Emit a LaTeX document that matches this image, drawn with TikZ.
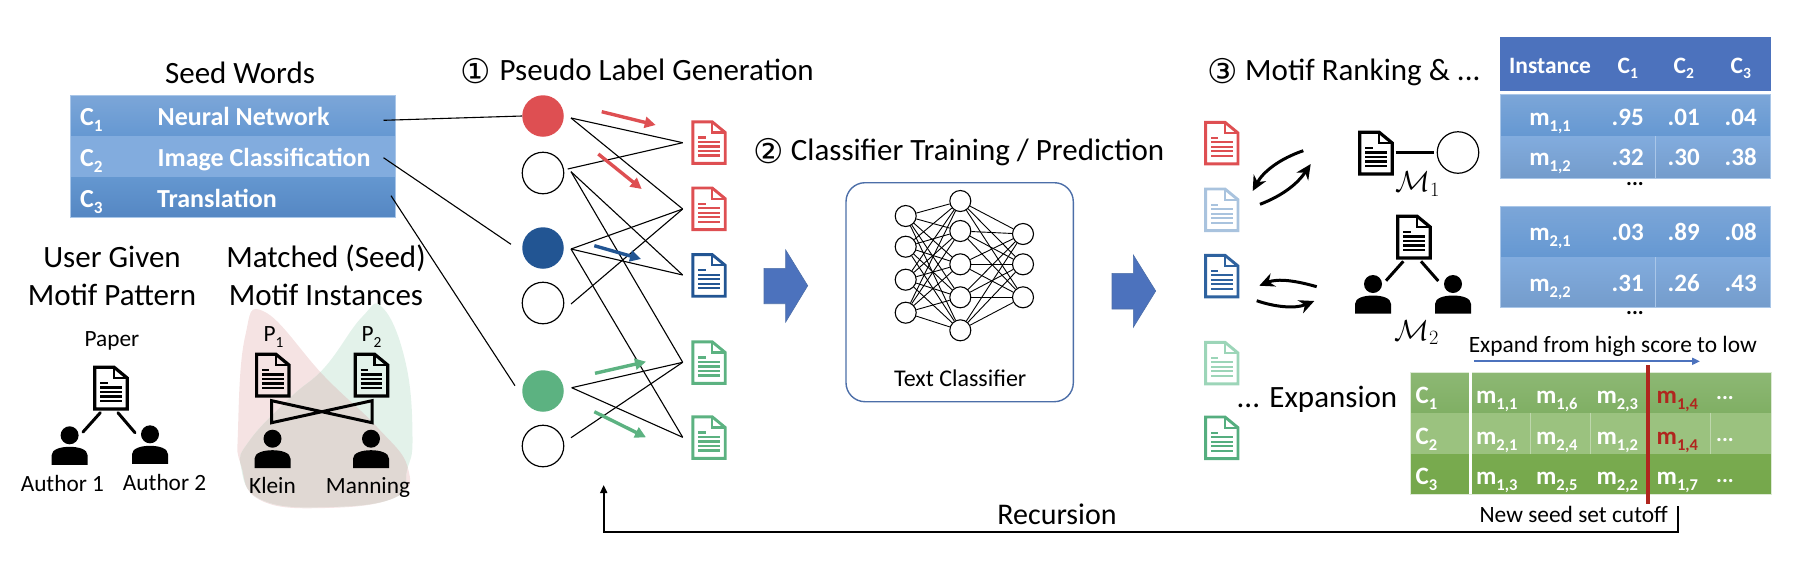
\RequirePackage{fix-cm}
\documentclass[tikz,border=0pt]{standalone}
\usepackage{fontspec}
\setmainfont{Carlito}
\newfontfamily\circfont{DejaVu Sans}
\usetikzlibrary{arrows.meta}
\definecolor{cred}{HTML}{DE4F52}
\definecolor{cblue}{HTML}{225593}
\definecolor{cgreen}{HTML}{5CB281}
\definecolor{clblue}{HTML}{A9C3DE}
\definecolor{clgreen}{HTML}{9CD5B8}
\definecolor{cblue2}{HTML}{2E629F}
\definecolor{cgreen2}{HTML}{55AE7F}
\definecolor{arrowblue}{HTML}{4C72BD}
\definecolor{boxline}{HTML}{4C6EA8}
\definecolor{cellline}{HTML}{A9C6E8}
\definecolor{pinkblob}{HTML}{F5E3E3}
\definecolor{greenblob}{HTML}{E3F2EA}
\definecolor{mixblob}{HTML}{E0D8D3}
\definecolor{cutred}{HTML}{B0261E}
\definecolor{rowAt}{HTML}{7CA6D8}
\definecolor{rowAb}{HTML}{6598D2}
\definecolor{rowBt}{HTML}{82ACDE}
\definecolor{rowBb}{HTML}{7AA4D6}
\definecolor{rowCt}{HTML}{6497D0}
\definecolor{rowCb}{HTML}{5587C3}
\definecolor{greenA}{HTML}{8DB874}
\definecolor{greenAb}{HTML}{80AF64}
\definecolor{greenB}{HTML}{9BC27F}
\definecolor{greenC}{HTML}{79AB4F}
\definecolor{greenCb}{HTML}{75A74B}
\newcommand\sbs[1]{\raisebox{-0.24em}{\scalebox{0.66}{#1}}}
% document icon: #1 colour, #2 outline width, #3 line width, #4 x, #5 y (top-left corner)
\newcommand\DocIcon[5]{%
  \begin{scope}[shift={(#4,#5)},draw=#1,line join=miter]
    \draw[line width=#2] (1.3,1.3) -- (20.7,1.3) -- (33.7,12) -- (33.7,42.9) -- (1.3,42.9) -- cycle;
    \draw[line width=#2*.8] (20.7,1.3) -- (20.7,12) -- (33.7,12);
    \draw[line width=#3] (6.7,17) -- (14,17);
    \foreach \ly in {21.4,26,30.4,35} {\draw[line width=#3] (6.7,\ly) -- (28.3,\ly);}
  \end{scope}}
% person icon: #1 x, #2 y of the head centre
\newcommand\PersonIcon[2]{%
  \begin{scope}[shift={(#1,#2)}]
    \fill[black] (0,0) circle[radius=9];
    \fill[black] (-18,29.5) -- (-18,20) .. controls (-18,14) and (-9,11.5) .. (0,11.5)
      .. controls (9,11.5) and (18,14) .. (18,20) -- (18,29.5) -- cycle;
  \end{scope}}
\tikzset{
  heading/.style={font=\fontsize{31}{33}\selectfont,inner sep=0pt,text=black,text height=20pt,text depth=0pt},
  circnum/.style={font=\circfont\fontsize{34}{36}\selectfont,inner sep=0pt},
  label23/.style={font=\fontsize{23.3}{25}\selectfont,inner sep=0pt,text=black,text height=15pt,text depth=0pt},
  seedtxt/.style={font=\fontsize{26}{28}\selectfont\bfseries,inner sep=0pt,text=white,anchor=west,text height=16.6pt,text depth=0pt},
  celltxt/.style={font=\fontsize{25}{27}\selectfont\bfseries,inner sep=0pt,text=white,text height=16pt,text depth=0pt},
  headtxt/.style={font=\fontsize{23.5}{25}\selectfont\bfseries,inner sep=0pt,text=white,text height=15pt,text depth=0pt},
  redtxt/.style={celltxt,text=cutred},
  dotstxt/.style={font=\fontsize{22}{24}\selectfont\bfseries,inner sep=0pt,text=black,text height=3pt,text depth=0pt},
  whitedots/.style={dotstxt,text=white},
  conn/.style={draw=black,line width=1.1pt},
  seedrow/.style={draw=cellline,line width=.8pt},
  tiearrow/.style={line width=3.4pt,-{Triangle[length=11pt,width=11pt]}},
  swaparrow/.style={draw=black,line width=3pt,-{Stealth[length=15pt,width=14pt]}},
  thickline/.style={draw=black,line width=3pt},
  bigarrow/.style={fill=arrowblue,draw=boxline,line width=.6pt},
  nnode/.style={circle,draw=black,line width=1.1pt,minimum size=21pt,inner sep=0pt},
  seednode/.style={circle,minimum size=41.5pt,inner sep=0pt},
  emptynode/.style={seednode,draw=black,line width=1.2pt},
  mathlabel/.style={font=\fontsize{29}{31}\selectfont,inner sep=0pt,anchor=base},
}
\def\redblob{plot[smooth cycle,tension=.75] coordinates {(265,312) (325,377) (377,427) (407.6,467) (396,497) (325,508) (260,500) (241,465) (238,430) (245,337)}}
\def\greenblob{plot[smooth cycle,tension=.75] coordinates {(383,308) (405.7,363) (412.5,437) (407,470) (396,497) (329,507) (262,500) (241,467) (250,440) (291,397) (325,367) (362,317)}}
\begin{document}
\begin{tikzpicture}[x=1pt,y=-1pt]
\useasboundingbox (0,0) rectangle (1804,574);

%% ---- Seed words table
\node[heading] (seedtitle) at (240,73.5) {Seed Words};
\path[seedrow,top color=rowAt,bottom color=rowAb] (70,95) rectangle (395,136);
\path[seedrow,draw=none,fill=rowBt] (70,136) rectangle (395,177);
\path[seedrow,draw=none,top color=rowCt,bottom color=rowCb] (70,177) rectangle (395,217.3);
\draw[seedrow] (70,95) rectangle (395,217.3);
\node[seedtxt] (s1) at (80,116.7) {C\sbs{1}};
\node[seedtxt] (s2) at (80,158) {C\sbs{2}};
\node[seedtxt] (s3) at (80,199) {C\sbs{3}};
\node[seedtxt] (w1) at (157.5,116.7) {Neural Network};
\node[seedtxt] (w2) at (157.5,158) {Image Classification};
\node[seedtxt] (w3) at (157,199) {Translation};

%% ---- Motif pattern
\node[heading] (ug1) at (112,257.5) {User Given};
\node[heading] (ug2) at (112,295) {Motif Pattern};
\node[heading] (ms1) at (326,257.5) {Matched (Seed)};
\node[heading] (ms2) at (326,295) {Motif Instances};
\node[label23] (paper) at (112,339) {Paper};
\DocIcon{black}{3.2pt}{2.2pt}{93.5}{366}
\PersonIcon{69.6}{435.3}
\PersonIcon{150}{434.3}
\coordinate (pa) at (100.3,412.7); \coordinate (a1) at (83,432);
\coordinate (pb) at (117.9,412.7); \coordinate (a2) at (135,432.7);
\draw[thickline,line cap=round] (pa) -- (a1);
\draw[thickline,line cap=round] (pb) -- (a2);
\node[label23] (au1) at (62.4,484) {Author 1};
\node[label23] (au2) at (164.6,483) {Author 2};

%% ---- Matched instances
\fill[pinkblob] \redblob;
\fill[greenblob] \greenblob;
\begin{scope}
  \clip \redblob;
  \fill[mixblob] \greenblob;
\end{scope}
\node[label23] (p1) at (273.6,334) {P\sbs{1}};
\node[label23] (p2) at (371.6,334) {P\sbs{2}};
\DocIcon{black}{3.2pt}{2.2pt}{255.3}{353}
\DocIcon{black}{3.2pt}{2.2pt}{354}{353}
\draw[thickline,line join=miter] (271.7,400.7) -- (372,422.7) -- (372,400.7) -- (271.7,422.7) -- cycle;
\PersonIcon{272.5}{438.7}
\PersonIcon{371}{438.7}
\node[label23] (klein) at (272.5,486) {Klein};
\node[label23] (manning) at (368,485.5) {Manning};

%% ---- Pseudo label generation
\node[circnum] (n1) at (476,71.5) {①};
\node[heading,anchor=west] (t1) at (499.4,70) {Pseudo Label Generation};
\node[seednode,fill=cred] (sr) at (543,116) {};
\node[emptynode] (e1) at (543,173) {};
\node[seednode,fill=cblue] (sb) at (543,248) {};
\node[emptynode] (e2) at (543,303) {};
\node[seednode,fill=cgreen] (sg) at (543,391) {};
\node[emptynode] (e3) at (543,446) {};

\coordinate (l1) at (383.5,120.3);
\coordinate (l2) at (383.5,157.7); \coordinate (l2e) at (511,244.3);
\coordinate (l3) at (391,195.7);   \coordinate (l3e) at (515,385.7);
\draw[conn] (l1) -- (sr.west);
\draw[conn] (l2) -- (l2e);
\draw[conn] (l3) -- (l3e);

\DocIcon{cred}{2.9pt}{2.1pt}{691.5}{120.5}
\DocIcon{cred}{2.9pt}{2.1pt}{691.5}{186.7}
\DocIcon{cblue}{2.9pt}{2.1pt}{691.5}{253.3}
\DocIcon{cgreen}{2.9pt}{2.1pt}{691.5}{340.5}
\DocIcon{cgreen}{2.9pt}{2.1pt}{691.5}{415.5}

\coordinate (fr) at (571,118);
\coordinate (fe1a) at (567.7,169);
\coordinate (fe1b) at (571,171.7);
\coordinate (fb) at (571,249);
\coordinate (fe2) at (571,304);
\coordinate (fg) at (571.7,387.7);
\coordinate (fe3) at (571,437.7);
\coordinate (d1) at (682.7,142.7);
\coordinate (d2) at (682.7,209);
\coordinate (d3) at (682.7,275);
\coordinate (d4) at (682.7,362.3);
\coordinate (d5) at (682.7,437.3);
\foreach \u/\v in {fr/d1,fr/d2,fe1a/d1,fe1b/d3,fe1b/d4,fb/d2,fb/d3,fb/d5,fe2/d2,fg/d4,fg/d5,fe3/d4}
  {\draw[conn] (\u) -- (\v);}

\coordinate (ar1s) at (601.7,111.7); \coordinate (ar1e) at (655.7,125);
\coordinate (ar2s) at (598.3,154);   \coordinate (ar2e) at (641.7,189);
\coordinate (ab1s) at (594.3,245.7); \coordinate (ab1e) at (641,259);
\coordinate (ag1s) at (595,373.3);   \coordinate (ag1e) at (646,361.7);
\coordinate (ag2s) at (594.3,411.7); \coordinate (ag2e) at (646,437.3);
\draw[tiearrow,cred] (ar1s) -- (ar1e);
\draw[tiearrow,cred] (ar2s) -- (ar2e);
\draw[tiearrow,cblue] (ab1s) -- (ab1e);
\draw[tiearrow,cgreen] (ag1s) -- (ag1e);
\draw[tiearrow,cgreen] (ag2s) -- (ag2e);

%% ---- Classifier
\path[bigarrow] (764,268.3) -- (785.7,268.3) -- (785.7,250) -- (807.7,285.7) -- (785.7,322) -- (785.7,303.7) -- (764,303.7) -- cycle;
\node[circnum] (n2) at (769,151) {②};
\node[heading,anchor=west] (t2) at (790.7,150.3) {Classifier Training / Prediction};
\draw[boxline,line width=1.4pt,rounded corners=19pt] (846,182.7) rectangle (1073.3,401.7);
\foreach \i/\y in {1/216,2/246.7,3/279.7,4/312.7} {\node[nnode] (a\i) at (905.7,\y) {};}
\foreach \i/\y in {1/201,2/231,3/264.3,4/297.3,5/330.3} {\node[nnode] (b\i) at (960.3,\y) {};}
\foreach \i/\y in {1/234,2/264.3,3/297.3} {\node[nnode] (c\i) at (1023,\y) {};}
\foreach \i in {1,...,4} {\foreach \j in {1,...,5} {\draw[black,line width=.9pt] (a\i) -- (b\j);}}
\foreach \i in {1,...,5} {\foreach \j in {1,...,3} {\draw[black,line width=.9pt] (b\i) -- (c\j);}}
\node[font=\fontsize{24}{26}\selectfont,inner sep=0pt,text height=15.5pt,text depth=0pt] (tc) at (960.3,378.3) {Text Classifier};
\path[bigarrow] (1112,273.3) -- (1133.3,273.3) -- (1133.3,255) -- (1155.7,291) -- (1133.3,327.3) -- (1133.3,309) -- (1112,309) -- cycle;

%% ---- Motif ranking
\node[circnum] (n3) at (1222.3,71.5) {③};
\node[heading,anchor=west] (t3) at (1245,70) {Motif Ranking \& ...};
\DocIcon{cred}{2.9pt}{2.1pt}{1204.3}{121}
\DocIcon{clblue}{2.9pt}{2.1pt}{1204.3}{187.7}
\DocIcon{cblue2}{2.9pt}{2.1pt}{1204.3}{254}
\DocIcon{clgreen}{2.9pt}{2.1pt}{1204.3}{341}
\DocIcon{cgreen2}{2.9pt}{2.1pt}{1204.3}{415.7}
\coordinate (sa) at (1303.3,150.7); \coordinate (sb2) at (1252.7,191);
\coordinate (sc) at (1260,204.3);   \coordinate (sd) at (1310.7,164);
\coordinate (se) at (1316.7,286.7); \coordinate (sf) at (1259.3,285.7);
\coordinate (sg2) at (1256.7,300.7);\coordinate (sh) at (1314.3,301);
\draw[swaparrow] (sa) .. controls (1279,159) and (1263,172) .. (sb2);
\draw[swaparrow] (sc) .. controls (1284,195) and (1298,183) .. (sd);
\draw[swaparrow] (se) .. controls (1297,281) and (1278,278) .. (sf);
\draw[swaparrow] (sg2) .. controls (1275,307) and (1295,309) .. (sh);

\DocIcon{black}{3.2pt}{2.2pt}{1358.5}{131}
\node[emptynode] (m1c) at (1458,152.5) {};
\coordinate (m1d) at (1395.7,152.7); \coordinate (m1e) at (1434,152.7);
\draw[thickline] (m1d) -- (m1e);
\node[mathlabel] (m1) at (1417.7,191.7) {$\mathcal{M}_1$};
\DocIcon{black}{3.2pt}{2.2pt}{1396.5}{215}
\PersonIcon{1373}{284}
\PersonIcon{1453}{284}
\coordinate (m2a) at (1403.3,261.3); \coordinate (m2b) at (1386,280.7);
\coordinate (m2c) at (1421,261.3);   \coordinate (m2d) at (1438.3,281);
\draw[thickline] (m2a) -- (m2b);
\draw[thickline] (m2c) -- (m2d);
\node[mathlabel] (m2) at (1416.7,340) {$\mathcal{M}_2$};
\node[heading] (exp) at (1317,397) {... Expansion};

%% ---- Score tables
\fill[arrowblue] (1500,37.3) rectangle (1770.7,91);
\node[headtxt] (hi) at (1550,65.7) {Instance};
\node[headtxt] (h1) at (1627.7,65.7) {C\sbs{1}};
\node[headtxt] (h2) at (1683.7,65.7) {C\sbs{2}};
\node[headtxt] (h3) at (1740.7,65.7) {C\sbs{3}};
\path[top color=rowAt,bottom color=rowAb] (1500,94.3) rectangle (1770.7,136);
\path[top color=rowBt,bottom color=rowBb!95!black] (1500,136) rectangle (1770.7,178.3);
\draw[seedrow] (1500,94.3) rectangle (1770.7,178.3);
\draw[cellline,line width=.7pt] (1655.3,136) -- (1655.3,178.3);
\path[top color=rowAt,bottom color=rowAb] (1500,206) rectangle (1770.7,257);
\path[top color=rowBt,bottom color=rowBb!95!black] (1500,257) rectangle (1770.7,307.7);
\draw[seedrow] (1500,206) rectangle (1770.7,307.7);
\draw[cellline,line width=.7pt] (1655.3,257) -- (1655.3,307.7);
\node[celltxt] (r11) at (1550,117.3) {m\sbs{1,1}};
\node[celltxt] (r12) at (1550,157.3) {m\sbs{1,2}};
\node[celltxt] (r21) at (1550,232.3) {m\sbs{2,1}};
\node[celltxt] (r22) at (1550,283.3) {m\sbs{2,2}};
\node[celltxt] (v111) at (1627.7,117.3) {.95};
\node[celltxt] (v112) at (1683.7,117.3) {.01};
\node[celltxt] (v113) at (1740.7,117.3) {.04};
\node[celltxt] (v121) at (1627.7,157.3) {.32};
\node[celltxt] (v122) at (1683.7,157.3) {.30};
\node[celltxt] (v123) at (1740.7,157.3) {.38};
\node[celltxt] (v211) at (1627.7,232.3) {.03};
\node[celltxt] (v212) at (1683.7,232.3) {.89};
\node[celltxt] (v213) at (1740.7,232.3) {.08};
\node[celltxt] (v221) at (1627.7,283.3) {.31};
\node[celltxt] (v222) at (1683.7,283.3) {.26};
\node[celltxt] (v223) at (1740.7,283.3) {.43};
\node[dotstxt] (dots1) at (1635,183.7) {...};
\node[dotstxt] (dots2) at (1635,312.7) {...};

%% ---- Expansion table
\node[label23,font=\fontsize{23.4}{25}\selectfont] (xp) at (1612.8,345) {Expand from high score to low};
\coordinate (xps) at (1474,361.3); \coordinate (xpe) at (1700,361.3);
\draw[arrowblue,line width=1.8pt,-{Triangle[length=8pt,width=7pt]}] (xps) -- (xpe);
\path[top color=greenA,bottom color=greenAb] (1410,372) rectangle (1771,412.7);
\fill[greenB] (1410,412.7) rectangle (1771,454);
\path[top color=greenC,bottom color=greenCb] (1410,454) rectangle (1771,494.3);
\draw[white!70!greenA,line width=.8pt] (1410,372) rectangle (1771,494.3);
\draw[white,line width=3.5pt] (1470.7,372) -- (1470.7,494.3);
\foreach \cx in {1530.7,1590.3,1710.3} {\draw[white!35!greenB,line width=.7pt] (\cx,412.7) -- (\cx,454);}
\node[celltxt,anchor=west] (g1) at (1415.5,395) {C\sbs{1}};
\node[celltxt,anchor=west] (g2) at (1415.5,436) {C\sbs{2}};
\node[celltxt,anchor=west] (g3) at (1415.5,476.5) {C\sbs{3}};
\node[celltxt] (g11) at (1496.7,395) {m\sbs{1,1}};
\node[celltxt] (g12) at (1556.7,395) {m\sbs{1,6}};
\node[celltxt] (g13) at (1617.3,395) {m\sbs{2,3}};
\node[redtxt] (g14) at (1677.3,395) {m\sbs{1,4}};
\node[whitedots] (g15) at (1725,398.3) {...};
\node[celltxt] (g21) at (1496.7,436) {m\sbs{2,1}};
\node[celltxt] (g22) at (1556.7,436) {m\sbs{2,4}};
\node[celltxt] (g23) at (1617.3,436) {m\sbs{1,2}};
\node[redtxt] (g24) at (1677.3,436) {m\sbs{1,4}};
\node[whitedots] (g25) at (1725,440) {...};
\node[celltxt] (g31) at (1496.7,476.5) {m\sbs{1,3}};
\node[celltxt] (g32) at (1556.7,476.5) {m\sbs{2,5}};
\node[celltxt] (g33) at (1617.3,476.5) {m\sbs{2,2}};
\node[celltxt] (g34) at (1677.3,476.5) {m\sbs{1,7}};
\node[whitedots] (g35) at (1725,481) {...};
\coordinate (cuts) at (1648,365); \coordinate (cute) at (1648,504);
\draw[cutred,line width=3.7pt] (cuts) -- (cute);
\node[label23,font=\fontsize{23.4}{25}\selectfont] (cutoff) at (1573.7,515) {New seed set cutoff};

%% ---- Recursion
\coordinate (rs) at (1678.3,506); \coordinate (rc1) at (1678.3,532.3);
\coordinate (rc2) at (603.7,532.3); \coordinate (re) at (603.7,485);
\draw[black,line width=1.8pt,-{Triangle[length=8pt,width=7pt]}] (rs) -- (rc1) -- (rc2) -- (re);
\node[font=\fontsize{30}{32}\selectfont,inner sep=0pt,text height=19.3pt,text depth=0pt] (rec) at (1057,514.7) {Recursion};
\end{tikzpicture}
\end{document}
